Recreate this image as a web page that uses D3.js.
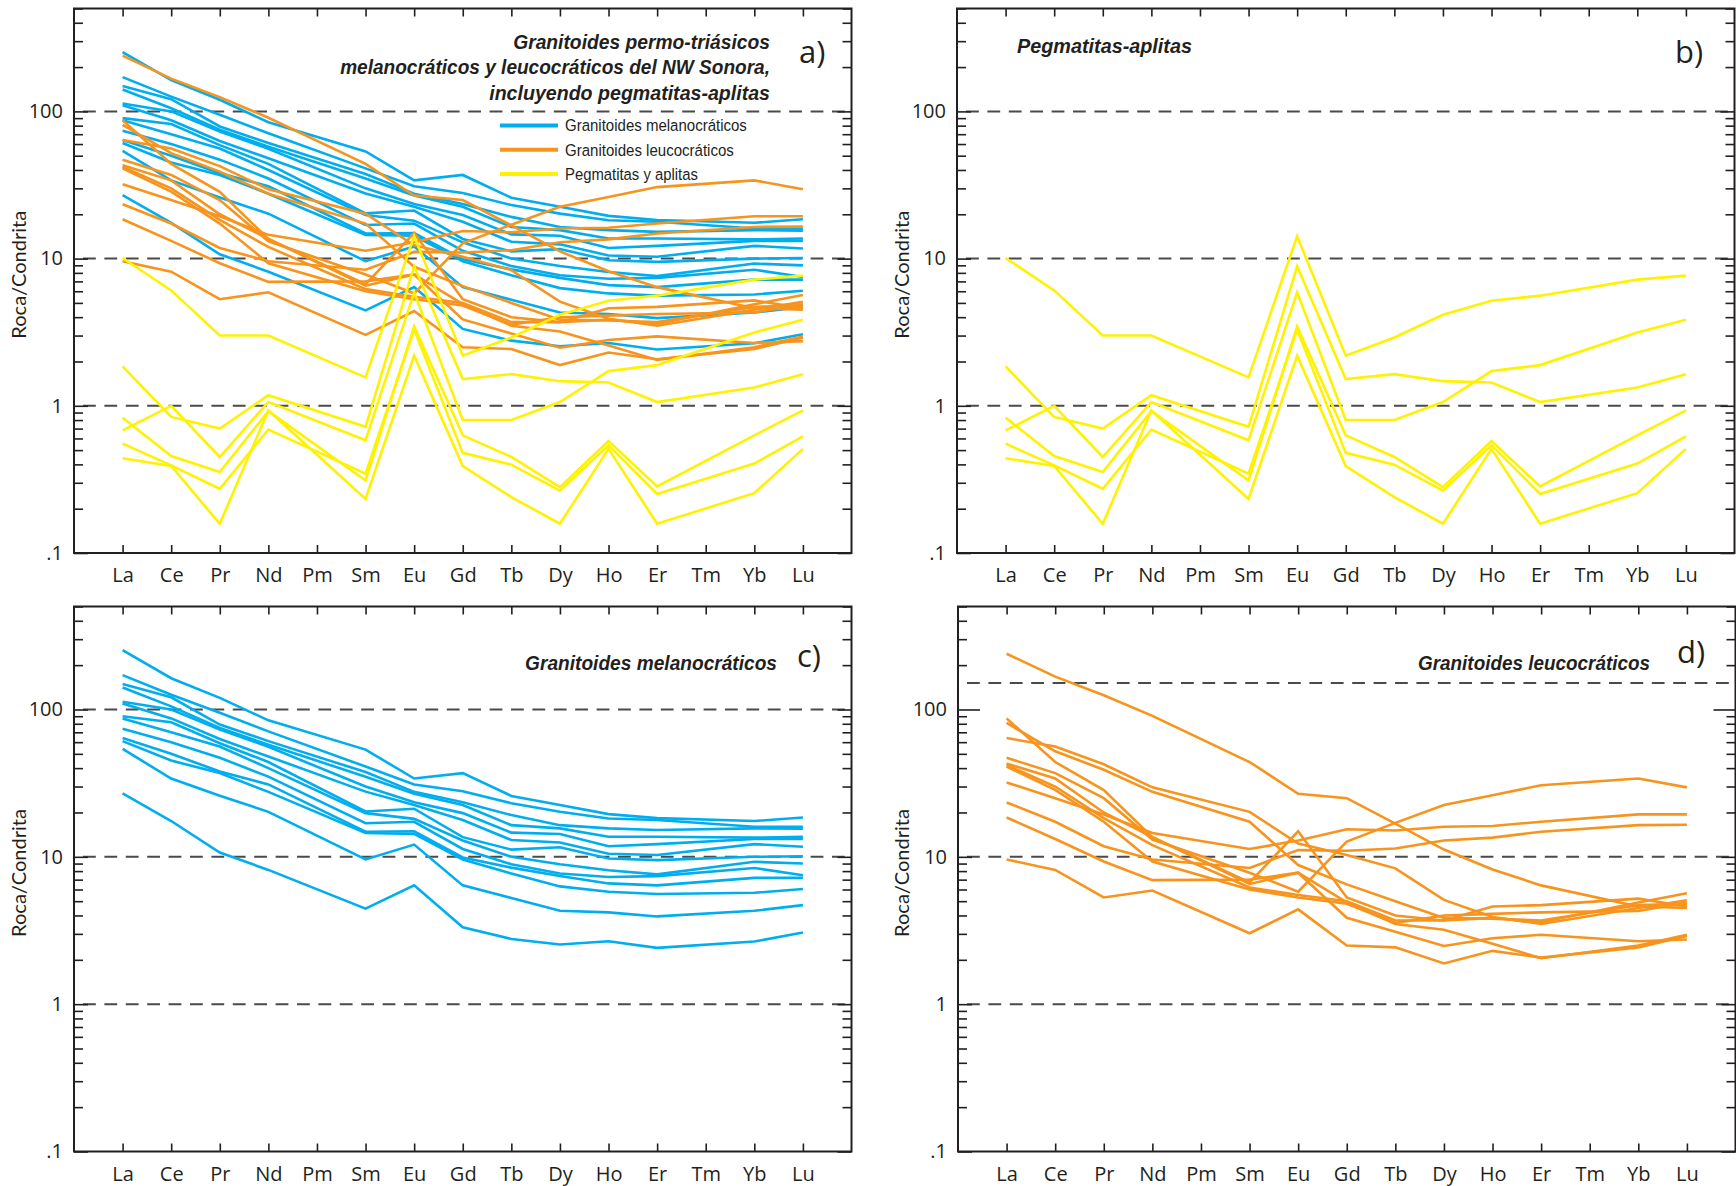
<!DOCTYPE html>
<html>
<head>
<meta charset="utf-8">
<script src="https://cdn.jsdelivr.net/npm/d3@7"></script>
<style>
  html, body { margin: 0; padding: 0; background: #ffffff; }
  svg { display: block; }
</style>
</head>
<body>
<svg id="chart" width="1736" height="1186"></svg>
<script>
// Chondrite-normalised REE patterns, NW Sonora Permo-Triassic granitoids

// Element positions along the x axis (Pm and Tm are not analysed)
const elements = ["La", "Ce", "Pr", "Nd", "Pm", "Sm", "Eu", "Gd", "Tb", "Dy", "Ho", "Er", "Tm", "Yb", "Lu"];
const analysed = ["La", "Ce", "Pr", "Nd", "Sm", "Eu", "Gd", "Tb", "Dy", "Ho", "Er", "Yb", "Lu"];

// y-axis labels
const yTickValues = [100, 10, 1, 0.1];
const yTickLabels = ["100", "10", "1", ".1"];

// Rock / chondrite values, one row per sample, columns follow `analysed`
const melanocraticos = [
  [253, 163, 120, 84.4, 53.4, 34, 37, 25.9, 22.5, 19.5, 18.3, 17.5, 18.5],
  [171, 126, 95, 71, 41, 31, 27.9, 23.1, 20.2, 18.2, 17.8, 16.0, 16.0],
  [149, 121, 79, 61, 37.6, 27.6, 23.5, 19.2, 16.4, 15.6, 15.2, 15.6, 15.5],
  [141, 105, 75, 57.6, 35, 26.8, 22.5, 16.4, 15.6, 13.7, 13.7, 13.5, 13.7],
  [113, 100, 73, 55.8, 30, 23.5, 19.8, 14.6, 14.3, 11.8, 12.2, 13.2, 13.2],
  [110, 87, 63, 48, 27.7, 22.5, 17.8, 13.0, 12.5, 10.5, 10.3, 12.2, 11.7],
  [90, 82, 59, 44, 20.3, 21.2, 13.6, 11.2, 11.6, 9.75, 9.5, 10, 10.1],
  [87, 70, 56, 40, 19.8, 18.1, 12.9, 10.0, 8.9, 8.1, 7.6, 9.25, 9.0],
  [74, 60, 47, 35, 16.9, 17.3, 11.3, 8.9, 7.7, 7.3, 7.4, 8.4, 7.5],
  [64, 50, 38, 31, 14.8, 14.9, 9.9, 8.45, 7.4, 6.6, 6.4, 7.2, 7.2],
  [61, 45, 37, 27.6, 14.5, 14.3, 9.6, 7.7, 6.3, 5.8, 5.6, 5.7, 6.05],
  [54, 34, 26, 20.2, 9.6, 12.1, 6.4, 5.25, 4.3, 4.2, 3.94, 4.3, 4.7],
  [27, 17.5, 10.7, 8.15, 4.45, 6.4, 3.33, 2.77, 2.54, 2.67, 2.41, 2.66, 3.06]
];

const leucocraticos = [
  [239, 167, 125, 90.5, 44, 26.8, 25, 16.8, 11.2, 8.2, 6.4, 4.6, 4.5],
  [64, 56, 42.5, 29.6, 20.2, 12.3, 10.3, 8.35, 5.1, 3.9, 3.5, 4.5, 5.08],
  [81, 52, 39, 27.6, 17.3, 8.8, 6.5, 5.0, 3.85, 3.8, 3.7, 4.7, 4.8],
  [87, 44, 28.4, 13.6, 6.55, 7.8, 4.9, 3.5, 3.2, 2.57, 2.05, 2.5, 2.96],
  [47, 37, 25, 13.1, 7.8, 5.8, 12.7, 17, 22.5, 26.2, 30.6, 34, 29.6],
  [43, 34, 20, 13.6, 6.7, 14.9, 5.3, 4.0, 3.7, 3.85, 3.6, 4.9, 5.66],
  [42, 30, 18.3, 12, 6.2, 5.5, 5.0, 3.7, 3.7, 4.6, 4.7, 5.2, 4.6],
  [41, 28.5, 17.3, 9.3, 6.0, 5.3, 4.8, 3.56, 4.0, 4.1, 4.2, 4.3, 4.9],
  [32, 25, 19.4, 14.5, 11.3, 12.9, 15.4, 15.1, 16, 16.2, 17.3, 19.4, 19.4],
  [23.4, 17.3, 11.8, 9.6, 8.4, 11.1, 11.0, 11.4, 12.9, 13.5, 14.8, 16.4, 16.5],
  [18.5, 13.2, 9.3, 6.95, 7.0, 7.8, 3.86, 3.1, 2.48, 2.8, 2.96, 2.67, 2.75],
  [9.6, 8.15, 5.3, 5.9, 3.03, 4.4, 2.5, 2.43, 1.89, 2.3, 2.07, 2.43, 2.9]
];

const pegmatitas = [
  [10.1, 6.08, 3.0, 3.0, 1.56, 14.2, 2.19, 2.91, 4.15, 5.17, 5.6, 7.2, 7.66],
  [1.85, 0.84, 0.70, 1.18, 0.72, 8.87, 1.52, 1.64, 1.47, 1.44, 1.06, 1.33, 1.64],
  [0.68, 1.0, 0.449, 1.06, 0.583, 5.9, 0.80, 0.80, 1.06, 1.72, 1.89, 3.15, 3.84],
  [0.83, 0.456, 0.355, 0.92, 0.311, 3.46, 0.63, 0.449, 0.28, 0.577, 0.283, 0.63, 0.93],
  [0.553, 0.394, 0.273, 0.69, 0.346, 3.3, 0.479, 0.398, 0.265, 0.54, 0.252, 0.405, 0.62],
  [0.44, 0.39, 0.158, 0.93, 0.233, 2.19, 0.39, 0.24, 0.158, 0.51, 0.158, 0.255, 0.51]
];

const groupColor = { mela: "#00AEEF", leuco: "#F7941D", pegma: "#FFF200" };
const legendItems = [
  { key: "mela", label: "Granitoides melanocráticos" },
  { key: "leuco", label: "Granitoides leucocráticos" },
  { key: "pegma", label: "Pegmatitas y aplitas" }
];

const INK = "#231F20";
const svg = d3.select("#chart");

const panels = [
  {
    key: "a", x0: 74, x1: 851.5, yBottom: 553, yTop: 8.5, labelX: 19,
    groups: [["mela", melanocraticos], ["leuco", leucocraticos], ["pegma", pegmatitas]],
    grid: [100, 10, 1], longTick: null,
    title: ["Granitoides permo-triásicos", "melanocráticos y leucocráticos del NW Sonora,", "incluyendo pegmatitas-aplitas"],
    titleWidths: [257, 430, 281], titleRight: 770, titleBase: 49, titleStep: 25.3,
    tag: "a)", tagX: 799, tagY: 63, legend: true
  },
  {
    key: "b", x0: 957, x1: 1734.5, yBottom: 553, yTop: 8.5, labelX: 902,
    groups: [["pegma", pegmatitas]],
    grid: [100, 10, 1], longTick: null,
    title: ["Pegmatitas-aplitas"], titleWidths: [175], titleRight: 1192, titleBase: 53, titleStep: 0,
    tag: "b)", tagX: 1675, tagY: 63, legend: false
  },
  {
    key: "c", x0: 74, x1: 851.5, yBottom: 1151.5, yTop: 606.5, labelX: 19,
    groups: [["mela", melanocraticos]],
    grid: [100, 10, 1], longTick: null,
    title: ["Granitoides melanocráticos"], titleWidths: [252], titleRight: 777, titleBase: 670, titleStep: 0,
    tag: "c)", tagX: 797, tagY: 667, legend: false
  },
  {
    key: "d", x0: 958, x1: 1735.5, yBottom: 1151.5, yTop: 606.5, labelX: 902,
    groups: [["leuco", leucocraticos]],
    grid: [151.5, 10, 1], longTick: 100,
    title: ["Granitoides leucocráticos"], titleWidths: [232], titleRight: 1650, titleBase: 670, titleStep: 0,
    tag: "d)", tagX: 1677, tagY: 663, legend: false
  }
];

// minor + major log ticks between 0.1 and 500
const logTicks = [];
[-1, 0, 1, 2].forEach(k => {
  for (let m = 1; m <= 9; m++) {
    const v = +(m * Math.pow(10, k)).toPrecision(3);
    if (v >= 0.1 && v <= 500) logTicks.push(v);
  }
});

// squeeze or stretch a text horizontally so its advance equals `width`
function fitWidth(text, width, tx, ty, rotate) {
  const natural = text.node().getComputedTextLength();
  const s = natural > 0 ? width / natural : 1;
  const rot = rotate ? ` rotate(${rotate})` : "";
  text.attr("x", 0).attr("y", 0)
    .attr("transform", `translate(${tx},${ty})${rot} scale(${s.toFixed(4)},1)`);
}

function drawPanel(p) {
  const g = svg.append("g").attr("class", "panel-" + p.key);
  const x = d3.scaleLinear().domain([0, 16]).range([p.x0, p.x1]);
  const y = d3.scaleLog().domain([0.1, 500]).range([p.yBottom, p.yTop]);
  const xPos = el => x(elements.indexOf(el) + 1);

  // dashed reference lines
  g.selectAll("line.grid").data(p.grid).join("line")
    .attr("class", "grid")
    .attr("x1", p.x0).attr("x2", p.x1)
    .attr("y1", d => y(d)).attr("y2", d => y(d))
    .attr("stroke", "#4a4a4a").attr("stroke-width", 2)
    .attr("stroke-dasharray", "12.8 8.6").attr("stroke-dashoffset", -9);

  // legend (panel a only) sits under the data lines
  if (p.legend) {
    const lg = g.append("g").attr("class", "legend");
    const lw = [182, 169, 133];
    legendItems.forEach((it, i) => {
      const ly = 125.5 + i * 24.3;
      lg.append("line").attr("x1", 500).attr("x2", 558).attr("y1", ly).attr("y2", ly)
        .attr("stroke", groupColor[it.key]).attr("stroke-width", 4);
      const t = lg.append("text").attr("dy", "0.36em")
        .attr("font-family", "'Liberation Sans Narrow', 'Arial Narrow', sans-serif")
        .attr("font-size", 16.5).attr("fill", INK)
        .text(it.label);
      fitWidth(t, lw[i], 565, ly, 0);
    });
  }

  // REE patterns
  const line = d3.line()
    .x((d, i) => xPos(analysed[i]))
    .y(d => y(d));
  p.groups.forEach(([key, rows]) => {
    g.append("g").attr("class", "series-" + key)
      .selectAll("path").data(rows).join("path")
      .attr("d", line)
      .attr("fill", "none")
      .attr("stroke", groupColor[key])
      .attr("stroke-width", 2.6)
      .attr("stroke-linejoin", "miter")
      .attr("stroke-miterlimit", 10);
  });

  // axes with inward ticks
  const tickLen = v => {
    if (p.longTick !== null && Math.abs(v - p.longTick) < 1e-6) return 22;
    const m = v / Math.pow(10, Math.floor(Math.log10(v) + 1e-9));
    return Math.abs(m - 1) < 1e-6 ? 14 : 9;
  };

  const left = g.append("g").attr("transform", `translate(${p.x0},0)`)
    .call(d3.axisLeft(y).tickValues(logTicks).tickSizeOuter(0).tickSize(-9).tickPadding(11)
      .tickFormat(v => {
        const i = yTickValues.findIndex(t => Math.abs(t - v) < 1e-9);
        return i >= 0 ? yTickLabels[i] : "";
      }));
  left.selectAll(".tick line").attr("x2", d => tickLen(d)).attr("stroke", INK).attr("stroke-width", 1.6);

  const right = g.append("g").attr("transform", `translate(${p.x1},0)`)
    .call(d3.axisRight(y).tickValues(logTicks).tickSizeOuter(0).tickSize(-9).tickFormat(""));
  right.selectAll(".tick line").attr("x2", d => -tickLen(d)).attr("stroke", INK).attr("stroke-width", 1.6);

  const idx = d3.range(1, 16);
  const bottom = g.append("g").attr("transform", `translate(0,${p.yBottom})`)
    .call(d3.axisBottom(x).tickValues(idx).tickSizeOuter(0).tickSize(-8).tickPadding(15)
      .tickFormat(i => elements[i - 1]));
  bottom.selectAll(".tick line").attr("stroke", INK).attr("stroke-width", 1.6);

  const top = g.append("g").attr("transform", `translate(0,${p.yTop})`)
    .call(d3.axisTop(x).tickValues(idx).tickSizeOuter(0).tickSize(-8).tickFormat(""));
  top.selectAll(".tick line").attr("stroke", INK).attr("stroke-width", 1.6);

  [left, right, bottom, top].forEach(a => a.select(".domain").remove());
  left.selectAll(".tick text").filter(function () { return this.textContent === ""; }).remove();
  [left, bottom].forEach(a => a.selectAll(".tick text")
    .attr("font-family", "'Open Sans', 'Noto Sans', sans-serif")
    .attr("font-size", 20).attr("fill", INK));

  // frame
  g.append("rect")
    .attr("x", p.x0).attr("y", p.yTop)
    .attr("width", p.x1 - p.x0).attr("height", p.yBottom - p.yTop)
    .attr("fill", "none").attr("stroke", INK).attr("stroke-width", 2);

  // y-axis title
  const midY = (p.yTop + p.yBottom) / 2 - 6;
  const yt = g.append("text")
    .attr("text-anchor", "middle")
    .attr("font-family", "Lato, 'Open Sans', sans-serif")
    .attr("font-size", 20).attr("fill", INK)
    .text("Roca/Condrita");
  fitWidth(yt, 128, p.labelX + 7, midY, -90);

  // panel title
  p.title.forEach((t, i) => {
    const tt = g.append("text")
      .attr("text-anchor", "end")
      .attr("font-family", "'Liberation Sans Narrow', 'Arial Narrow', sans-serif")
      .attr("font-weight", "bold").attr("font-style", "italic")
      .attr("font-size", 21).attr("fill", INK)
      .text(t);
    fitWidth(tt, p.titleWidths[i], p.titleRight, p.titleBase + i * p.titleStep, 0);
  });

  // panel letter
  g.append("text")
    .attr("x", p.tagX).attr("y", p.tagY)
    .attr("font-family", "'Open Sans', 'Noto Sans', sans-serif")
    .attr("font-size", 31).attr("fill", INK)
    .text(p.tag);
}

panels.forEach(drawPanel);
</script>
</body>
</html>
